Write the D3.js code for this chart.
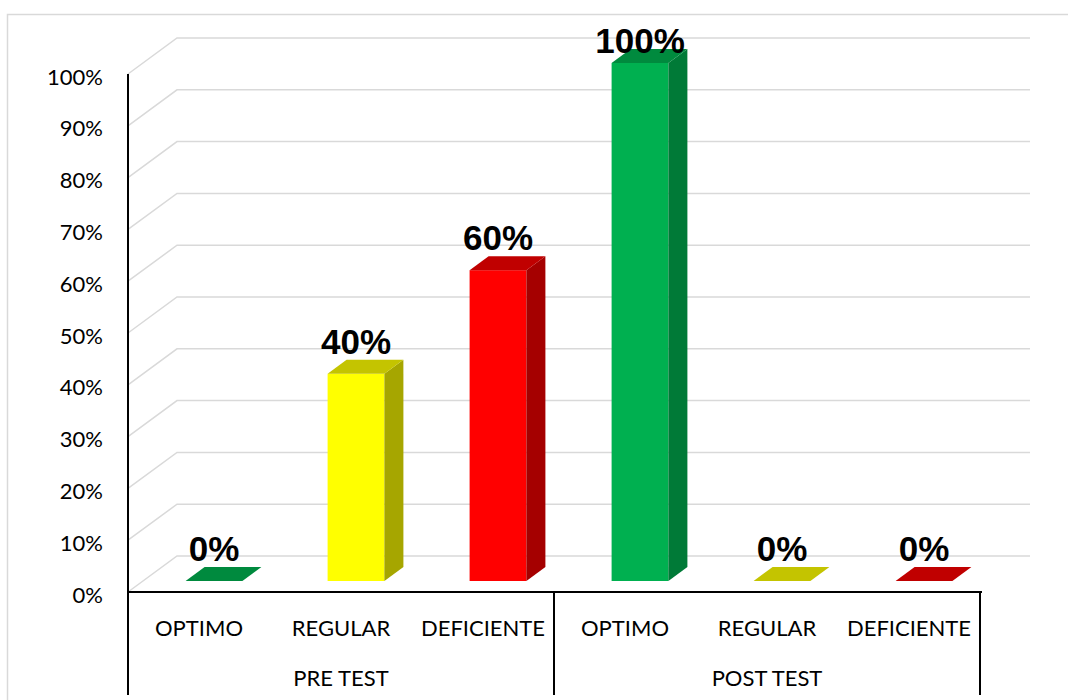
<!DOCTYPE html>
<html>
<head>
<meta charset="utf-8">
<script src="https://cdn.jsdelivr.net/npm/d3@7"></script>
<style>
  html, body { margin: 0; padding: 0; background: #ffffff; }
  svg { display: block; }
</style>
</head>
<body>
<svg id="chart" width="1068" height="700"></svg>
<script>
// ---- data ----
const categories = ["OPTIMO", "REGULAR", "DEFICIENTE", "OPTIMO", "REGULAR", "DEFICIENTE"];
const groups = ["PRE TEST", "POST TEST"];
const values = [0, 40, 60, 100, 0, 0];
const seriesKind = ["optimo", "regular", "deficiente", "optimo", "regular", "deficiente"];
const tickValues = [0, 10, 20, 30, 40, 50, 60, 70, 80, 90, 100];

// ---- styles ----
const palette = {
  optimo:     { front: "#00B050", side: "#007A37", top: "#008A3E" },
  regular:    { front: "#FFFF00", side: "#A6A600", top: "#C4C400" },
  deficiente: { front: "#FF0000", side: "#A50000", top: "#C00000" }
};

const svg = d3.select("#chart");
const left = 128, right = 980, bottom = 592, topY = 74;
const wall = { dx: 49, dy: -36, right: 1030 };
const barOff = { dx: 15, dy: -11 };
const depth = { dx: 19, dy: -14 };

// outer frame
svg.append("rect").attr("x", 7.5).attr("y", 14.5).attr("width", 1100).attr("height", 720)
  .attr("fill", "none").attr("stroke", "#d9d9d9").attr("stroke-width", 1.5);

const y = d3.scaleLinear().domain([0, 100]).range([bottom, topY]);
const x = d3.scaleBand().domain(d3.range(categories.length)).range([left, right])
  .paddingInner(0.6).paddingOuter(0.3);

// back wall gridlines
const grid = svg.append("g");
tickValues.forEach(t => {
  const y0 = y(t);
  grid.append("path")
    .attr("d", `M${left},${y0} L${left + wall.dx},${y0 + wall.dy} L${wall.right},${y0 + wall.dy}`)
    .attr("fill", "none").attr("stroke", "#d9d9d9").attr("stroke-width", 1.5);
});

// y tick labels
const yTicks = svg.append("g");
tickValues.forEach(t => {
  yTicks.append("text")
    .attr("x", 103).attr("y", y(t) + 10.5)
    .attr("text-anchor", "end")
    .attr("font-family", "Lato, 'Liberation Sans', sans-serif")
    .attr("font-size", 22).attr("fill", "#000")
    .text(t + "%");
});

// bars
const bars = svg.append("g");
const baseY = bottom + barOff.dy;
values.forEach((v, i) => {
  const c = palette[seriesKind[i]];
  const x0 = x(i) + barOff.dx, x1 = x0 + x.bandwidth();
  const yt = y(v) + barOff.dy;
  bars.append("rect").attr("x", x0).attr("y", yt).attr("width", x1 - x0).attr("height", baseY - yt)
    .attr("fill", c.front);
  bars.append("path")
    .attr("d", `M${x1},${yt} L${x1 + depth.dx},${yt + depth.dy} L${x1 + depth.dx},${baseY + depth.dy} L${x1},${baseY} Z`)
    .attr("fill", c.side);
  bars.append("path")
    .attr("d", `M${x0},${yt} L${x0 + depth.dx},${yt + depth.dy} L${x1 + depth.dx},${yt + depth.dy} L${x1},${yt} Z`)
    .attr("fill", c.top);
  const ly = Math.max(yt + depth.dy - 6, 53);
  bars.append("text")
    .attr("x", (x0 + x1) / 2).attr("y", ly)
    .attr("text-anchor", "middle")
    .attr("font-family", "'Liberation Sans', Arial, sans-serif")
    .attr("font-weight", "bold").attr("font-size", 35).attr("fill", "#000")
    .text(v + "%");
});

// axes lines
const axes = svg.append("g").attr("stroke", "#000").attr("stroke-width", 2);
axes.append("line").attr("x1", left).attr("x2", left).attr("y1", topY).attr("y2", 695);
axes.append("line").attr("x1", left).attr("x2", right + 2).attr("y1", bottom).attr("y2", bottom);
const groupSize = categories.length / groups.length;
const halfGap = x.paddingInner() * x.step() / 2;
groups.forEach((g, gi) => {
  const lastIdx = (gi + 1) * groupSize - 1;
  const sx = gi === groups.length - 1 ? right : x(lastIdx) + x.bandwidth() + halfGap;
  axes.append("line").attr("x1", sx).attr("x2", sx).attr("y1", bottom).attr("y2", 695);
});

// category labels
const catG = svg.append("g")
  .attr("font-family", "Lato, 'Liberation Sans', sans-serif")
  .attr("font-size", 22).attr("fill", "#000").attr("text-anchor", "middle");
categories.forEach((c, i) => {
  catG.append("text").attr("x", x(i) + x.bandwidth() / 2).attr("y", 636).text(c);
});
groups.forEach((g, gi) => {
  const a = x(gi * groupSize), b = x((gi + 1) * groupSize - 1) + x.bandwidth();
  catG.append("text").attr("x", (a + b) / 2).attr("y", 686).text(g);
});
</script>
</body>
</html>
